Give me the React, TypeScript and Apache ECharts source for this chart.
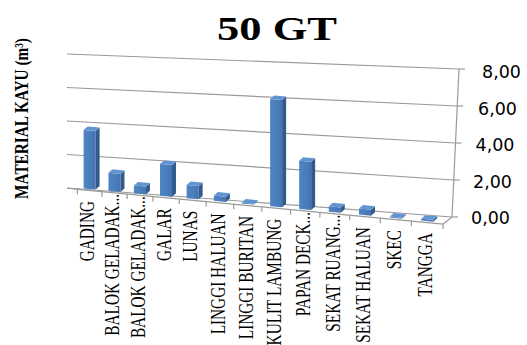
import React, { useEffect, useRef } from "react";
import * as echarts from "echarts";

// ---- data ----
const categories = [
  "GADING",
  "BALOK GELADAK...",
  "BALOK GELADAK...",
  "GALAR",
  "LUNAS",
  "LINGGI HALUAN",
  "LINGGI BURITAN",
  "KULIT LAMBUNG",
  "PAPAN DECK...",
  "SEKAT RUANG...",
  "SEKAT HALUAN",
  "SKEC",
  "TANGGA",
];
const volumes = [3.45, 1.05, 0.45, 1.83, 0.76, 0.3, 0.05, 6.0, 2.68, 0.3, 0.33, 0.05, 0.1];
const yTicks = [0, 2, 4, 6, 8];
const yTickLabels = ["0,00", "2,00", "4,00", "6,00", "8,00"];
const titleText = "50 GT";
const yTitleText = "MATERIAL KAYU (m\u00B3)";

// ---- 3D-look projection (screen geometry of the tilted plot) ----
const frontX = (t: number) => 77.4 + 315.5 * t + 50.2 * t * t;
const baseY = (x: number) => 189 + (x - 89.5) * 0.095;
const fullH = (t: number) => 135.2 + 13.6 * t;
const wallLeft = (r: number) => [67, 188 - 134 * r];
const wallRight = (r: number) => [452 + 7 * r, 217 - 148 * r];

const GRID_COLOR = "#9a9a9a";
const SERIF = '"Liberation Serif", "Times New Roman", serif';

export default function App() {
  const ref = useRef<HTMLDivElement>(null);

  useEffect(() => {
    if (!ref.current) return;
    const chart = echarts.init(ref.current, undefined, { renderer: "svg" });

    const labelRich: any = {};
    yTicks.forEach((v, k) => {
      labelRich["p" + v] = {
        fontFamily: '"DejaVu Sans", sans-serif',
        fontSize: 17.5,
        color: "#000",
        padding: [0, 0, 0, [0, 2, 4.5, 7, 11][k]],
      };
    });

    const option: any = {
      animation: false,
      backgroundColor: "#fff",
      grid: { left: 77, right: 65, top: 72, bottom: 127 },
      xAxis: {
        type: "category",
        data: categories,
        show: false,
      },
      yAxis: {
        type: "value",
        position: "right",
        min: 0,
        max: 8,
        interval: 2,
        axisLine: { show: false },
        axisTick: { show: false },
        splitLine: { show: false },
        axisLabel: {
          margin: 9,
          formatter: (v: number) => {
            const k = yTicks.indexOf(v);
            return "{p" + v + "|" + (k >= 0 ? yTickLabels[k] : "") + "}";
          },
          rich: labelRich,
        },
      },
      graphic: [
        {
          type: "text",
          x: 277,
          y: 29,
          scaleX: 1.35,
          style: {
            text: titleText,
            fontFamily: SERIF,
            fontWeight: "bold",
            fontSize: 33,
            fill: "#000",
            align: "center",
            verticalAlign: "middle",
          },
        },
        {
          type: "text",
          x: 21,
          y: 118.5,
          rotation: Math.PI / 2,
          scaleY: 1.3,
          style: {
            text: yTitleText,
            fontFamily: SERIF,
            fontWeight: "bold",
            fontSize: 15.3,
            fill: "#000",
            align: "center",
            verticalAlign: "middle",
          },
        },
      ],
      series: [
        {
          type: "custom",
          z: 1,
          silent: true,
          encode: { x: 0, y: 1 },
          data: yTicks.map((v) => [0, v]),
          renderItem: (params: any, api: any) => {
            const cs = params.coordSys;
            const v = api.value(1);
            const p = api.coord([0, v]);
            const r = (cs.y + cs.height - p[1]) / cs.height;
            const L = wallLeft(r);
            const R = wallRight(r);
            const ls = { stroke: GRID_COLOR, lineWidth: 1.2 };
            const children: any[] = [
              { type: "line", shape: { x1: L[0], y1: L[1], x2: R[0], y2: R[1] }, style: ls },
              { type: "line", shape: { x1: R[0], y1: R[1], x2: R[0] + 6, y2: R[1] }, style: ls },
            ];
            if (params.dataIndex === 0) {
              const B = wallRight(0);
              const T = wallRight(1);
              children.push({ type: "line", shape: { x1: B[0], y1: B[1], x2: T[0], y2: T[1] }, style: ls });
              const n = categories.length;
              const fl = frontX(0) - 2;
              const fr = frontX(1);
              const flY = baseY(fl) + 1.5;
              const frY = baseY(fr) + 1.5;
              children.push({ type: "line", shape: { x1: fl, y1: flY, x2: fr, y2: frY }, style: ls });
              children.push({ type: "line", shape: { x1: fr, y1: frY, x2: B[0], y2: B[1] }, style: ls });
              children.push({ type: "line", shape: { x1: wallLeft(0)[0], y1: wallLeft(0)[1], x2: fl, y2: flY }, style: ls });
              for (let k = 0; k <= n; k++) {
                const x = frontX(k / n);
                const y = baseY(x) + 1.5;
                children.push({ type: "line", shape: { x1: x, y1: y, x2: x, y2: y + 5 }, style: ls });
              }
            }
            return { type: "group", children };
          },
        },
        {
          type: "custom",
          z: 2,
          encode: { x: 0, y: 1 },
          data: volumes.map((v, i) => [i, v]),
          renderItem: (params: any, api: any) => {
            const cs = params.coordSys;
            const i = api.value(0);
            const v = api.value(1);
            const top = api.coord([i, v]);
            const bot = api.coord([i, 0]);
            const t = (top[0] - cs.x) / cs.width;
            const r = (bot[1] - top[1]) / cs.height;
            const cx = frontX(t);
            const h = r * fullH(t);
            const hw = 6;
            const dx = 4;
            const dy = -3.5;
            const xl = cx - hw;
            const xr = cx + hw;
            const byL = baseY(xl);
            const byR = baseY(xr);
            const tyL = byL - h;
            const tyR = byR - h;
            const label = categories[i];
            const truncated = label.endsWith("...");
            const children: any[] = [
              {
                type: "polygon",
                shape: { points: [[xl, byL], [xr, byR], [xr, tyR], [xl, tyL]] },
                style: {
                  fill: new echarts.graphic.LinearGradient(0, 0, 1, 0, [
                    { offset: 0, color: "#4f85c4" },
                    { offset: 0.5, color: "#4a7ebd" },
                    { offset: 1, color: "#4374b0" },
                  ]),
                },
              },
              {
                type: "polygon",
                shape: { points: [[xr, byR], [xr, tyR], [xr + dx, tyR + dy], [xr + dx, byR + dy]] },
                style: { fill: "#335a8c" },
              },
              {
                type: "polygon",
                shape: { points: [[xl, tyL], [xr, tyR], [xr + dx, tyR + dy], [xl + dx, tyL + dy]] },
                style: { fill: "#6394d2" },
              },
              {
                type: "text",
                z2: 10,
                x: cx - 2,
                y: baseY(cx) + (truncated ? 2.5 : 12),
                rotation: Math.PI / 2,
                scaleY: 1.35,
                style: {
                  text: label,
                  fontFamily: SERIF,
                  fontSize: 15.3,
                  fill: "#000",
                  align: "right",
                  verticalAlign: "middle",
                },
              },
            ];
            return { type: "group", children };
          },
        },
      ],
    };

    chart.setOption(option);
    return () => chart.dispose();
  }, []);

  return (
    <div
      ref={ref}
      style={{ position: "fixed", left: 0, top: 0, width: 527, height: 345, background: "#fff" }}
    />
  );
}
